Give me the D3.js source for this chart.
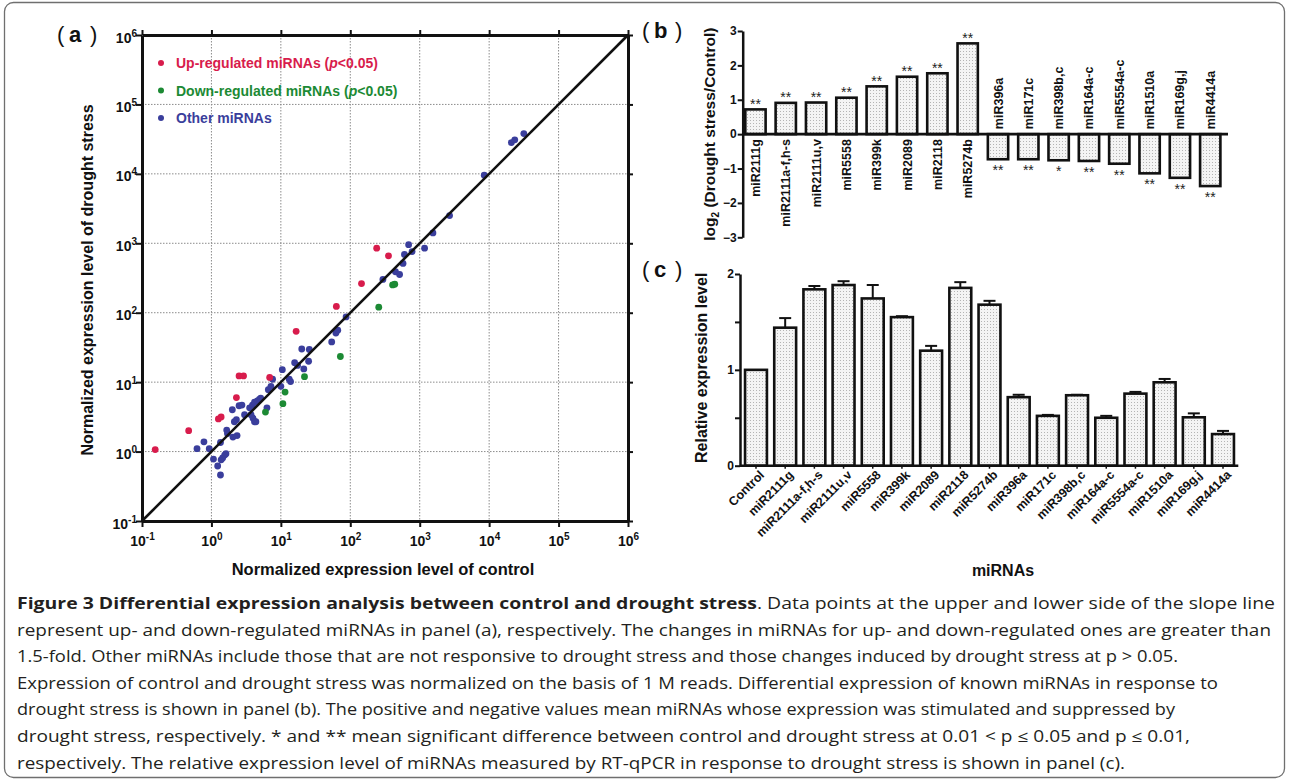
<!DOCTYPE html>
<html>
<head>
<meta charset="utf-8">
<script src="https://cdn.jsdelivr.net/npm/d3@7"></script>
<style>
  body { margin: 0; background: #fff; }
  svg { display: block; }
</style>
</head>
<body>
<div id="fig"></div>
<script>
// ---- panel (a): [control, drought stress] normalized expression (reads per million)
const upRegulated = [
  [0.155, 1.07], [0.47, 2.0], [1.26, 2.95], [1.38, 3.16], [2.29, 6.0], [2.5, 12.3],
  [2.9, 12.3], [6.9, 11.7], [16.6, 54], [63, 123], [145, 263], [240, 850], [355, 660]
];
const downRegulated = [
  [6.0, 3.7], [10.7, 4.9], [11.5, 7.2], [21.9, 12.0], [72, 23.4], [257, 120], [407, 251], [437, 257]
];
const otherMiRNAs = [
  [0.62, 1.10], [0.78, 1.38], [0.93, 1.10], [1.07, 0.78], [1.23, 0.62], [1.35, 0.46], [1.38, 0.76],
  [1.45, 0.81], [1.55, 0.89], [1.62, 0.93], [1.35, 1.35], [1.66, 2.04], [1.70, 1.82], [2.04, 1.62],
  [2.34, 1.70], [2.0, 4.0], [2.14, 2.69], [2.29, 2.88], [2.5, 4.57], [2.75, 4.68], [3.0, 3.4],
  [3.55, 4.27], [3.9, 4.68], [4.17, 5.13], [4.57, 5.37], [4.9, 5.62], [5.13, 5.89], [3.72, 3.39],
  [3.98, 3.02], [4.17, 2.69], [4.37, 2.69], [6.3, 4.27], [6.6, 7.8], [7.2, 8.7], [7.6, 11.0],
  [10, 8.7], [10.5, 15.1], [13.2, 11.0], [13.8, 10.2], [15.8, 19.1], [17.4, 17.4], [20, 30],
  [21.4, 15.5], [25.1, 20], [25.7, 29.5], [54, 38], [62, 51], [66, 56], [87, 87], [295, 302],
  [447, 389], [513, 355], [575, 513], [603, 692], [776, 759], [692, 955], [1175, 851],
  [1550, 1410], [2690, 2510], [8500, 9550], [20900, 28200], [23400, 30900], [31600, 38000]
];
const logTicks = [0.1, 1, 10, 100, 1e3, 1e4, 1e5, 1e6];

// ---- panel (b): log2(drought/control)
const bNames = ["miR2111g", "miR2111a-f,h-s", "miR2111u,v", "miR5558", "miR399k", "miR2089",
  "miR2118", "miR5274b", "miR396a", "miR171c", "miR398b,c", "miR164a-c", "miR5554a-c",
  "miR1510a", "miR169g,j", "miR4414a"];
const bLog2 = [0.72, 0.91, 0.92, 1.06, 1.39, 1.67, 1.77, 2.64, -0.73, -0.73, -0.76, -0.78,
  -0.86, -1.14, -1.27, -1.51];
const bStars = ["**", "**", "**", "**", "**", "**", "**", "**", "**", "**", "*", "**", "**",
  "**", "**", "**"];
const bTicks = [-3, -2, -1, 0, 1, 2, 3];

// ---- panel (c): RT-qPCR relative expression, mean and top of error bar
const cNames = ["Control"].concat(bNames);
const cMean = [1.00, 1.44, 1.84, 1.885, 1.745, 1.55, 1.20, 1.855, 1.68, 0.715, 0.52, 0.735,
  0.50, 0.752, 0.87, 0.505, 0.33];
const cErrTop = [1.00, 1.54, 1.875, 1.925, 1.885, 1.56, 1.25, 1.915, 1.72, 0.74, 0.53, 0.74,
  0.52, 0.77, 0.905, 0.546, 0.363];
const cTicks = [0, 0.5, 1, 1.5, 2];

const captionLines = [
  ["Figure 3 Differential expression analysis between control and drought stress", ". Data points at the upper and lower side of the slope line"],
  ["", "represent up- and down-regulated miRNAs in panel (a), respectively. The changes in miRNAs for up- and down-regulated ones are greater than"],
  ["", "1.5-fold. Other miRNAs include those that are not responsive to drought stress and those changes induced by drought stress at p > 0.05."],
  ["", "Expression of control and drought stress was normalized on the basis of 1 M reads. Differential expression of known miRNAs in response to"],
  ["", "drought stress is shown in panel (b). The positive and negative values mean miRNAs whose expression was stimulated and suppressed by"],
  ["", "drought stress, respectively. * and ** mean significant difference between control and drought stress at 0.01 < p \u2264 0.05 and p \u2264 0.01,"],
  ["", "respectively. The relative expression level of miRNAs measured by RT-qPCR in response to drought stress is shown in panel (c)."]
];

const W = 1290, H = 782;
const FONT = "'Liberation Sans', Arial, sans-serif";
const RED = "#d81c4c", GREEN = "#1c8a34", BLUE = "#3a3e9c";

const svg = d3.select("#fig").append("svg")
  .attr("width", W).attr("height", H)
  .style("font-family", FONT);

// frame around figure + caption
svg.append("rect")
  .attr("x", 4.5).attr("y", 2.5).attr("width", 1280).attr("height", 775).attr("rx", 9)
  .attr("fill", "none").attr("stroke", "#6f6f6f").attr("stroke-width", 1.3);

// dotted fill used by bars
const pat = svg.append("defs").append("pattern")
  .attr("id", "dots").attr("width", 3).attr("height", 3).attr("patternUnits", "userSpaceOnUse");
pat.append("rect").attr("width", 3).attr("height", 3).attr("fill", "#f4f4f4");
pat.append("rect").attr("width", 1).attr("height", 1).attr("fill", "#b4b4b4");

// "(a)" style labels: thin brackets, bold letter
function panelLabel(x, y, letter) {
  const g = svg.append("g").attr("fill", "#111");
  g.append("text").attr("x", x).attr("y", y).attr("font-size", 22).text("(");
  g.append("text").attr("x", x + 12).attr("y", y).attr("font-size", 22).attr("font-weight", "bold").text(letter);
  g.append("text").attr("x", x + 33).attr("y", y).attr("font-size", 22).text(")");
}

// =================== panel (a) ===================
const xa = d3.scaleLog().domain([0.1, 1e6]).range([142, 628]);
const ya = d3.scaleLog().domain([0.1, 1e6]).range([521, 35]);
const ga = svg.append("g");

// dotted grid
const inner = logTicks.slice(1, -1);
ga.append("g").selectAll("line").data(inner).join("line")
  .attr("x1", d => xa(d)).attr("x2", d => xa(d)).attr("y1", ya(1e6)).attr("y2", ya(0.1))
  .attr("stroke", "#8c8c8c").attr("stroke-width", 1).attr("stroke-dasharray", "1.5,1.5");
ga.append("g").selectAll("line").data(inner).join("line")
  .attr("y1", d => ya(d)).attr("y2", d => ya(d)).attr("x1", xa(0.1)).attr("x2", xa(1e6))
  .attr("stroke", "#8c8c8c").attr("stroke-width", 1).attr("stroke-dasharray", "1.5,1.5");

function styleAxis(g) {
  g.select(".domain").attr("stroke", "#111").attr("stroke-width", 3);
  g.selectAll(".tick line").attr("stroke", "#111").attr("stroke-width", 2);
}
function powLabel(text, d) {
  const e = Math.round(Math.log10(d));
  text.append("tspan").text("10");
  text.append("tspan").attr("font-size", 10).attr("dy", -6).text(e < 0 ? "-" + (-e) : e);
}

const axBottom = ga.append("g").attr("transform", `translate(0,${ya(0.1)})`)
  .call(d3.axisBottom(xa).tickValues(logTicks).tickSize(6).tickSizeOuter(0).tickFormat(""))
  .call(styleAxis);
axBottom.selectAll(".tick").append("text")
  .attr("y", 25).attr("text-anchor", "middle").attr("fill", "#111")
  .style("font-family", FONT).attr("font-size", 14).attr("font-weight", "bold")
  .each(function (d) { powLabel(d3.select(this), d); });

const axLeft = ga.append("g").attr("transform", `translate(${xa(0.1)},0)`)
  .call(d3.axisLeft(ya).tickValues(logTicks).tickSize(6).tickSizeOuter(0).tickFormat(""))
  .call(styleAxis);
axLeft.selectAll(".tick").append("text")
  .attr("x", -5).attr("y", 7).attr("text-anchor", "end").attr("fill", "#111")
  .style("font-family", FONT).attr("font-size", 14).attr("font-weight", "bold")
  .each(function (d) { powLabel(d3.select(this), d); });

ga.append("g").attr("transform", `translate(0,${ya(1e6)})`)
  .call(d3.axisTop(xa).tickValues(logTicks).tickSize(5).tickSizeOuter(0).tickFormat(""))
  .call(styleAxis);
ga.append("g").attr("transform", `translate(${xa(1e6)},0)`)
  .call(d3.axisRight(ya).tickValues(logTicks).tickSize(5).tickSizeOuter(0).tickFormat(""))
  .call(styleAxis);

// points
const groups = [[otherMiRNAs, BLUE], [downRegulated, GREEN], [upRegulated, RED]];
groups.forEach(([data, col]) => {
  ga.append("g").selectAll("circle").data(data).join("circle")
    .attr("cx", d => xa(d[0])).attr("cy", d => ya(d[1])).attr("r", 3.4)
    .attr("fill", col);
});

// 1:1 line
ga.append("line")
  .attr("x1", xa(0.1)).attr("y1", ya(0.1)).attr("x2", xa(1e6)).attr("y2", ya(1e6))
  .attr("stroke", "#111").attr("stroke-width", 2.6);

// legend
const legend = [
  [RED, "Up-regulated miRNAs (", "p", "<0.05)"],
  [GREEN, "Down-regulated miRNAs (", "p", "<0.05)"],
  [BLUE, "Other miRNAs", "", ""]
];
legend.forEach(([col, a, it, b], i) => {
  const y = 63 + i * 27.5;
  ga.append("circle").attr("cx", 161).attr("cy", y).attr("r", 3).attr("fill", col);
  const t = ga.append("text").attr("x", 176).attr("y", y + 5)
    .attr("font-size", 14).attr("font-weight", "bold").attr("fill", col);
  t.append("tspan").text(a);
  if (it) t.append("tspan").attr("font-style", "italic").text(it);
  t.append("tspan").text(b);
});

ga.append("text")
  .attr("transform", `translate(93,${(ya(0.1) + ya(1e6)) / 2 + 2}) rotate(-90)`)
  .attr("text-anchor", "middle").attr("font-size", 16).attr("font-weight", "bold").attr("fill", "#111")
  .text("Normalized expression level of drought stress");
ga.append("text")
  .attr("x", (xa(0.1) + xa(1e6)) / 2 - 2).attr("y", 575)
  .attr("text-anchor", "middle").attr("font-size", 16.5).attr("font-weight", "bold").attr("fill", "#111")
  .text("Normalized expression level of control");

panelLabel(57, 42, "a");

// =================== panel (b) ===================
const xb = d3.scaleBand().domain(bNames).range([740.3, 1225.4]).paddingInner(0.33).paddingOuter(0.165);
const yb = d3.scaleLinear().domain([-3, 3]).range([237.3, 31]);
const gb = svg.append("g");

gb.append("g").selectAll("rect").data(bNames).join("rect")
  .attr("x", d => xb(d)).attr("width", xb.bandwidth())
  .attr("y", (d, i) => yb(Math.max(0, bLog2[i])))
  .attr("height", (d, i) => Math.abs(yb(bLog2[i]) - yb(0)))
  .attr("fill", "url(#dots)").attr("stroke", "#111").attr("stroke-width", 2.6);

gb.append("g").attr("transform", `translate(742.7,0)`)
  .call(d3.axisLeft(yb).tickValues(bTicks).tickSize(5).tickSizeOuter(0).tickFormat(d3.format("d")))
  .call(g => {
    g.select(".domain").attr("stroke", "#111").attr("stroke-width", 2.5);
    g.selectAll(".tick line").attr("stroke", "#111").attr("stroke-width", 2);
    g.selectAll(".tick text").attr("font-size", 12).attr("font-weight", "bold")
      .style("font-family", FONT).attr("fill", "#111").attr("x", -6);
  });
gb.append("line").attr("x1", 742.7).attr("x2", 1228).attr("y1", yb(0)).attr("y2", yb(0))
  .attr("stroke", "#111").attr("stroke-width", 2.6);

// significance marks
gb.append("g").selectAll("text").data(bNames).join("text")
  .attr("x", d => xb(d) + xb.bandwidth() / 2)
  .attr("y", (d, i) => bLog2[i] > 0 ? yb(bLog2[i]) - 0.5 : yb(bLog2[i]) + 16)
  .attr("text-anchor", "middle").attr("font-size", 14).attr("fill", "#222")
  .text((d, i) => bStars[i]);

// bar names along the zero line
gb.append("g").selectAll("text").data(bNames).join("text")
  .attr("transform", (d, i) => {
    const cx = xb(d) + xb.bandwidth() / 2 + 4.5;
    return bLog2[i] > 0 ? `translate(${cx},${yb(0) + 5}) rotate(-90)` : `translate(${cx},${yb(0) - 5}) rotate(-90)`;
  })
  .attr("text-anchor", (d, i) => bLog2[i] > 0 ? "end" : "start")
  .attr("font-size", 12.5).attr("font-weight", "bold").attr("fill", "#111")
  .text(d => d);

const bTitle = gb.append("text")
  .attr("transform", `translate(715,${(yb(3) + yb(-3)) / 2}) rotate(-90)`)
  .attr("text-anchor", "middle").attr("font-size", 15.5).attr("font-weight", "bold").attr("fill", "#111");
bTitle.append("tspan").text("log");
bTitle.append("tspan").attr("font-size", 10).attr("dy", 4).text("2");
bTitle.append("tspan").attr("dy", -4).text(" (Drought stress/Control)");

panelLabel(642, 38, "b");

// =================== panel (c) ===================
const xc = d3.scaleBand().domain(cNames).range([741.4, 1237.6]).paddingInner(0.25).paddingOuter(0.125);
const yc = d3.scaleLinear().domain([0, 2]).range([465.7, 274]);
const gc = svg.append("g");

gc.append("g").selectAll("rect").data(cNames).join("rect")
  .attr("x", d => xc(d)).attr("width", xc.bandwidth())
  .attr("y", (d, i) => yc(cMean[i]))
  .attr("height", (d, i) => yc(0) - yc(cMean[i]))
  .attr("fill", "url(#dots)").attr("stroke", "#111").attr("stroke-width", 2.6);

// error bars (upper half only)
const eb = gc.append("g").attr("stroke", "#111").attr("stroke-width", 2);
cNames.forEach((d, i) => {
  if (cErrTop[i] - cMean[i] < 0.005) return;
  const cx = xc(d) + xc.bandwidth() / 2;
  eb.append("line").attr("x1", cx).attr("x2", cx).attr("y1", yc(cMean[i])).attr("y2", yc(cErrTop[i]));
  eb.append("line").attr("x1", cx - 6).attr("x2", cx + 6).attr("y1", yc(cErrTop[i])).attr("y2", yc(cErrTop[i]));
});

gc.append("g").attr("transform", `translate(740,0)`)
  .call(d3.axisLeft(yc).tickValues(cTicks).tickSize(5).tickSizeOuter(0)
    .tickFormat(d => Number.isInteger(d) ? d : ""))
  .call(g => {
    g.select(".domain").attr("stroke", "#111").attr("stroke-width", 2.5);
    g.selectAll(".tick line").attr("stroke", "#111").attr("stroke-width", 2);
    g.selectAll(".tick text").attr("font-size", 12).attr("font-weight", "bold")
      .style("font-family", FONT).attr("fill", "#111").attr("x", -6);
  });

gc.append("g").attr("transform", `translate(0,${yc(0)})`)
  .call(d3.axisBottom(xc).tickSize(3).tickSizeOuter(0).tickFormat(""))
  .call(g => {
    g.select(".domain").attr("stroke", "#111").attr("stroke-width", 2.6)
      .attr("d", `M740,0H1238.3`);
    g.selectAll(".tick line").attr("stroke", "#111").attr("stroke-width", 1.5);
  });

gc.append("g").selectAll("text").data(cNames).join("text")
  .attr("transform", d => `translate(${xc(d) + xc.bandwidth() / 2 + 9},${yc(0) + 10}) rotate(-45)`)
  .attr("text-anchor", "end").attr("font-size", 12.5).attr("font-weight", "bold").attr("fill", "#111")
  .text(d => d);

gc.append("text")
  .attr("transform", `translate(707,${(yc(0) + yc(2)) / 2 - 2}) rotate(-90)`)
  .attr("text-anchor", "middle").attr("font-size", 16).attr("font-weight", "bold").attr("fill", "#111")
  .text("Relative expression level");
gc.append("text")
  .attr("x", 1003).attr("y", 576)
  .attr("text-anchor", "middle").attr("font-size", 16).attr("font-weight", "bold").attr("fill", "#111")
  .text("miRNAs");

panelLabel(642, 277, "c");

// =================== caption ===================
const captionEnds = [1275, 1271, 1178, 1218, 1175, 1190, 1125];
const cap = svg.append("g").style("font-family", "'Open Sans', sans-serif").attr("font-size", 15.5)
  .attr("fill", "#231f20");
captionLines.forEach(([bold, rest], i) => {
  const t = cap.append("text").attr("x", 17).attr("y", 609 + i * 26.6)
    .attr("textLength", captionEnds[i] - 17).attr("lengthAdjust", "spacingAndGlyphs");
  if (bold) t.append("tspan").attr("font-weight", "bold").text(bold);
  t.append("tspan").text(rest);
});
</script>
</body>
</html>
